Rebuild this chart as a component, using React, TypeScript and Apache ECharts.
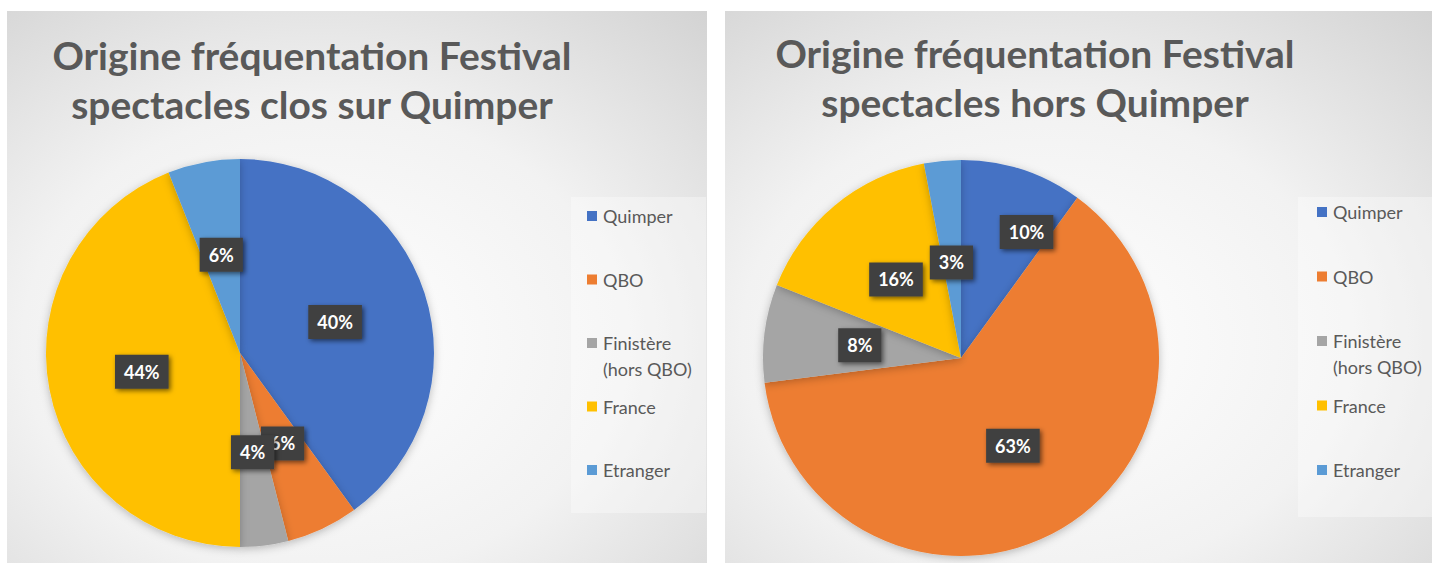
import React, { useEffect, useRef } from "react";
import * as echarts from "echarts";

const categories = ["Quimper", "QBO", "Finistère\n(hors QBO)", "France", "Etranger"];
const colors = ["#4472C4", "#ED7D31", "#A5A5A5", "#FFC000", "#5B9BD5"];
const valuesQuimper = [40, 6, 4, 44, 6];
const valuesHors = [10, 63, 8, 16, 3];
const titleLeft = "Origine fréquentation Festival\nspectacles clos sur Quimper";
const titleRight = "Origine fréquentation Festival\nspectacles hors Quimper";

const FONT = "Lato, 'Open Sans', sans-serif";

function panelBg(x: number, y: number, w: number, h: number) {
  return {
    type: "rect",
    z: 0,
    silent: true,
    shape: { x, y, width: w, height: h },
    style: {
      fill: {
        type: "radial",
        x: 0.45,
        y: 0.6,
        r: 0.95,
        colorStops: [
          { offset: 0, color: "#ffffff" },
          { offset: 0.45, color: "#f2f2f2" },
          { offset: 1, color: "#c8c8c8" },
        ],
      },
    },
  };
}

function legendGraphics(
  boxX: number, boxY: number, boxW: number, boxH: number,
  markerX: number, textX: number, firstY: number, step: number
) {
  const els: any[] = [
    {
      type: "rect",
      z: 1,
      silent: true,
      shape: { x: boxX, y: boxY, width: boxW, height: boxH },
      style: { fill: "rgba(255,255,255,0.35)" },
    },
  ];
  categories.forEach((name, i) => {
    const cy = firstY + i * step;
    els.push({
      type: "rect",
      z: 5,
      shape: { x: markerX, y: cy - 5, width: 10, height: 10 },
      style: { fill: colors[i] },
    });
    els.push({
      type: "text",
      z: 5,
      x: textX,
      y: cy - 13,
      style: {
        text: name,
        fill: "#595959",
        fontSize: 18,
        fontFamily: FONT,
        lineHeight: 26,
        verticalAlign: "top",
        align: "left",
      },
    });
  });
  return els;
}

function titleText(cx: number, cy: number, text: string) {
  return {
    type: "text",
    z: 5,
    x: cx,
    y: cy,
    scaleX: 1.025,
    style: {
      text,
      fill: "#595959",
      fontSize: 38,
      fontWeight: "bold",
      fontFamily: FONT,
      lineHeight: 49,
      align: "center",
      verticalAlign: "middle",
    },
  };
}

function pieSeries(
  values: number[],
  center: [number, number],
  radius: number,
  labelShift?: (idx: number) => any
) {
  return {
    type: "pie",
    z: 3,
    center,
    radius,
    startAngle: 90,
    clockwise: true,
    avoidLabelOverlap: false,
    minShowLabelAngle: 0,
    labelLayout: (params: any) =>
      Object.assign({ hideOverlap: false }, labelShift ? labelShift(params.dataIndex) : {}),
    data: categories.map((name, i) => ({
      name,
      value: values[i],
      itemStyle: { color: colors[i] },
    })),
    itemStyle: {
      shadowBlur: 8,
      shadowColor: "rgba(0,0,0,0.25)",
      shadowOffsetY: 2,
    },
    label: {
      show: true,
      position: "inside",
      overflow: "none",
      formatter: (p: any) => Math.round(p.percent) + "%",
      color: "#ffffff",
      fontSize: 18,
      fontWeight: "bold",
      fontFamily: FONT,
      backgroundColor: "#404040",
      padding: [8, 9, 8, 9],
      shadowBlur: 5,
      shadowColor: "rgba(0,0,0,0.55)",
      shadowOffsetX: 2,
      shadowOffsetY: 2,
    },
    labelLine: { show: false },
    emphasis: { disabled: true },
  };
}

export default function App() {
  const ref = useRef<HTMLDivElement>(null);
  useEffect(() => {
    if (!ref.current) return;
    const chart = echarts.init(ref.current, undefined, { renderer: "svg" });
    chart.setOption({
      animation: false,
      backgroundColor: "#ffffff",
      graphic: [
        panelBg(7, 11, 700, 552),
        panelBg(725, 11, 707, 552),
        titleText(312, 80, titleLeft),
        titleText(1035, 78, titleRight),
        ...legendGraphics(571, 197, 135, 316, 587, 603, 216, 63.5),
        ...legendGraphics(1298, 197, 134, 320, 1317, 1333, 212, 64.5),
      ],
      series: [
        pieSeries(valuesQuimper, [240, 353], 194),
        pieSeries(valuesHors, [961, 358], 198, (idx) =>
          idx === 0 ? { dx: 34, dy: -29 } : idx === 4 ? { dy: 6 } : {}
        ),
      ],
    });
    return () => chart.dispose();
  }, []);
  return (
    <div
      ref={ref}
      style={{ position: "absolute", left: 0, top: 0, width: 1432, height: 563 }}
    />
  );
}
